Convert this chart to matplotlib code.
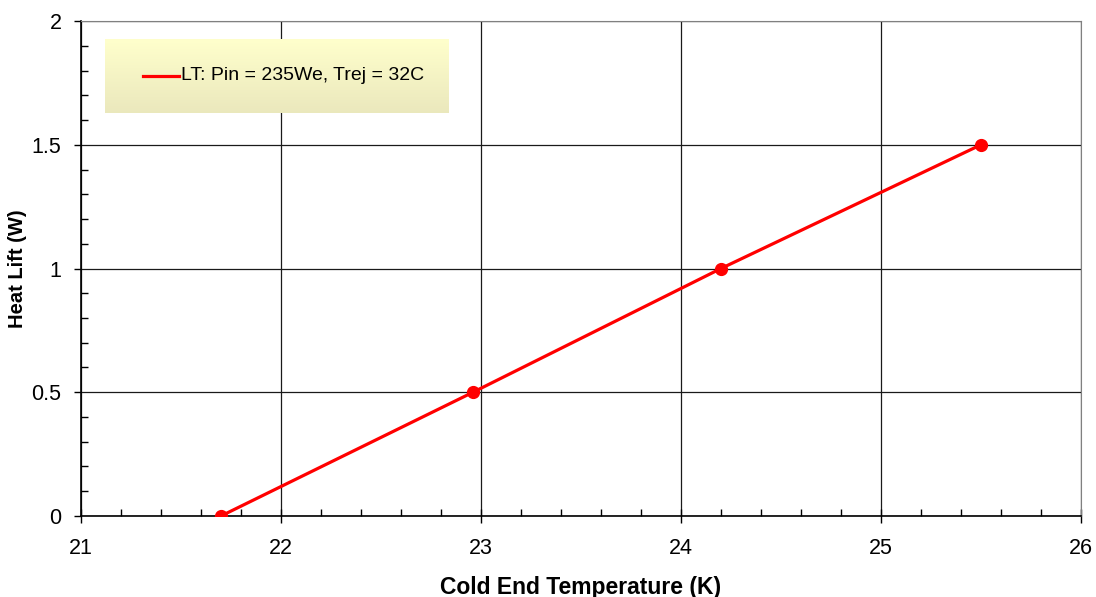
import matplotlib.pyplot as plt
import numpy as np
from matplotlib.ticker import MultipleLocator

plt.rcParams['font.family'] = ['Liberation Sans', 'DejaVu Sans']

# data
temp_k = [21.7, 22.96, 24.2, 25.5]
heat_lift_w = [0.0, 0.5, 1.0, 1.5]
serie = "LT: Pin = 235We, Trej = 32C"

fig = plt.figure(figsize=(10.96, 5.97), dpi=100)
ax = fig.add_axes([0.0739, 0.1357, 0.9124, 0.8291])

ax.plot(temp_k, heat_lift_w, color='#FF0000', lw=2.3, marker='o', ms=8.5,
        label=serie, zorder=3)

ax.set_xlim(21, 26)
ax.set_ylim(0, 2)
ax.xaxis.set_major_locator(MultipleLocator(1))
ax.xaxis.set_minor_locator(MultipleLocator(0.2))
ax.yaxis.set_major_locator(MultipleLocator(0.5))
ax.yaxis.set_minor_locator(MultipleLocator(0.1))
ax.set_yticks([0, 0.5, 1, 1.5, 2], ['0', '0.5', '1', '1.5', '2'])

ax.grid(True, which='major', color='#1a1a1a', lw=0.9)
ax.tick_params(which='minor', direction='in', length=5, width=1)
ax.tick_params(axis='x', which='major', direction='inout', length=10,
               width=1, labelsize=15.5, pad=11)
ax.tick_params(axis='y', which='major', direction='out', length=5,
               width=1, labelsize=15.5, pad=9)

for s in ['top', 'right']:
    ax.spines[s].set_color('#808080')
for s in ['left', 'bottom']:
    ax.spines[s].set_color('#000000')
    ax.spines[s].set_linewidth(1.2)

ax.set_xlabel('Cold End Temperature (K)', fontsize=16.5, fontweight='bold',
              labelpad=12)
ax.set_ylabel('Heat Lift (W)', fontsize=14.5, fontweight='bold', labelpad=3)

# legend box with a light yellow gradient
bx0, by0, bx1, by1 = 105 / 1096, 1 - 113 / 597, 449 / 1096, 1 - 39 / 597
grad = np.linspace(0, 1, 100).reshape(-1, 1)
top = np.array([1.0, 1.0, 0.8])
bot = np.array([0.92, 0.91, 0.74])
img = top * (1 - grad[..., None]) + bot * grad[..., None]
lax = fig.add_axes([bx0, by0, bx1 - bx0, by1 - by0])
lax.imshow(img, aspect='auto', extent=[0, 1, 0, 1])
lax.set_axis_off()
lax.set_xlim(0, 1)
lax.set_ylim(0, 1)
lax.plot([0.11, 0.215], [0.5, 0.5], color='#FF0000', lw=2.3)
lax.text(0.22, 0.5, serie, fontsize=14, va='center', ha='left')

fig.savefig('out.png', dpi=100)
